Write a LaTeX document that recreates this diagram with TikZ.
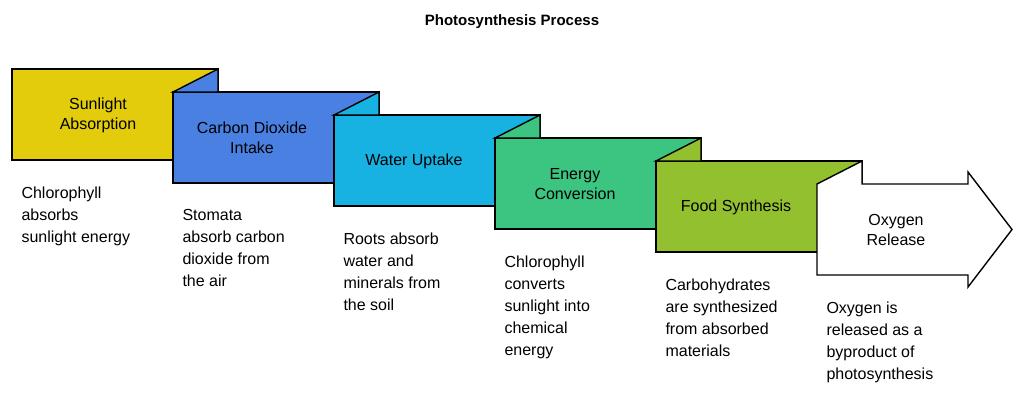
\documentclass[tikz,border=0pt]{standalone}
\usepackage{fontspec}
\setmainfont{Liberation Sans}
\usetikzlibrary{calc}
\definecolor{cSun}{HTML}{E2CC0C}
\definecolor{cCarbon}{HTML}{4A80E2}
\definecolor{cWater}{HTML}{17B1E2}
\definecolor{cEnergy}{HTML}{3CC481}
\definecolor{cFood}{HTML}{93C02F}
\tikzset{
  stepbox/.style={draw=black, line width=1.4pt, line join=miter},
  steplabel/.style={align=center, font=\fontsize{16}{20}\selectfont},
  steptext/.style={align=left, anchor=north west, font=\fontsize{16}{22}\selectfont}
}
% box: left, top, colour
\newcommand{\flapbox}[3]{
  \filldraw[stepbox, fill=#3] (#1, #2) rectangle (#1 + 206, #2 + 91);
  \filldraw[stepbox, fill=#3] (#1, #2) -- (#1 + 45, #2 - 23) -- (#1 + 45, #2) -- cycle;}
\begin{document}
\begin{tikzpicture}[x=1pt, y=-1pt]
\useasboundingbox (0,0) rectangle (1024,402);
\node[font=\bfseries\fontsize{15}{18}\selectfont] (title) at (512,22) {Photosynthesis Process};
% boxes
\filldraw[stepbox, fill=cSun] (12,69) rectangle (218,160);
\flapbox{173}{92}{cCarbon}
\flapbox{334}{115}{cWater}
\flapbox{495}{138}{cEnergy}
\flapbox{656}{161}{cFood}
% last step, arrow
\filldraw[stepbox, fill=white] (817,184) -- (862,161) -- (862,184) -- (968,184) -- (968,172)
  -- (1012,229.5) -- (968,287) -- (968,275) -- (817,275) -- cycle;
% labels
\node[steplabel] (sun) at (98,115) {Sunlight\\Absorption};
\node[steplabel] (carbon) at (252,138) {Carbon Dioxide\\Intake};
\node[steplabel] (water) at (414,161) {Water Uptake};
\node[steplabel] (energy) at (575,184) {Energy\\Conversion};
\node[steplabel] (food) at (736,207) {Food Synthesis};
\node[steplabel] (oxygen) at (896,230) {Oxygen\\Release};
% descriptions
\node[steptext] (sunT) at (18,183) {Chlorophyll\\absorbs\\sunlight energy};
\node[steptext] (carbonT) at (179,206) {Stomata\\absorb carbon\\dioxide from\\the air};
\node[steptext] (waterT) at (340,229) {Roots absorb\\water and\\minerals from\\the soil};
\node[steptext] (energyT) at (501,252) {Chlorophyll\\converts\\sunlight into\\chemical\\energy};
\node[steptext] (foodT) at (662,275) {Carbohydrates\\are synthesized\\from absorbed\\materials};
\node[steptext] (oxygenT) at (823,298) {Oxygen is\\released as a\\byproduct of\\photosynthesis};
\end{tikzpicture}
\end{document}
